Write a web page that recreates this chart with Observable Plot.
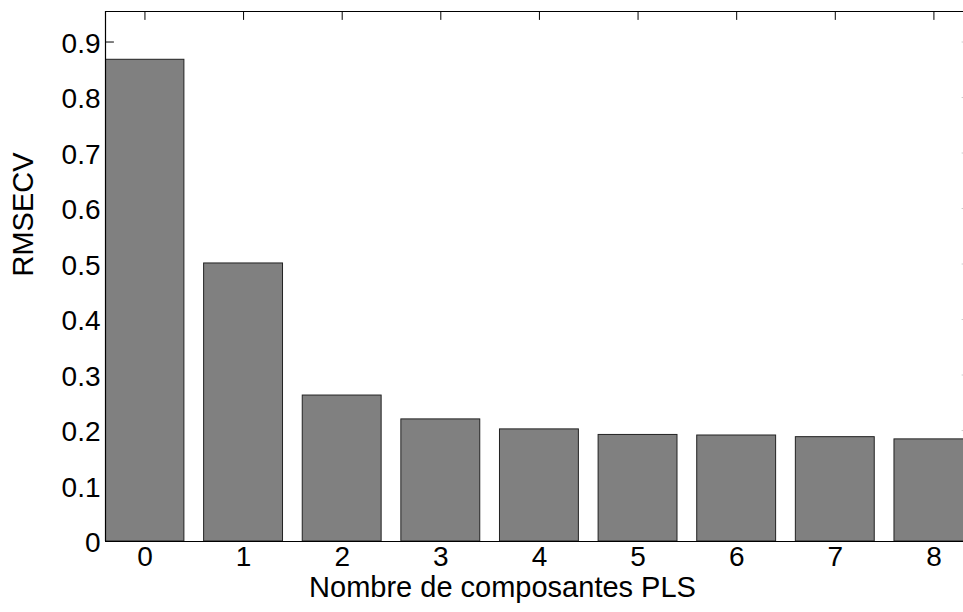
<!DOCTYPE html>
<html>
<head>
<meta charset="utf-8">
<script src="https://cdn.jsdelivr.net/npm/d3@7"></script>
<script src="https://cdn.jsdelivr.net/npm/@observablehq/plot@0.6"></script>
<style>
  html, body { margin: 0; padding: 0; background: #fff; overflow: hidden; }
</style>
</head>
<body>
<div id="chart"></div>
<script>
// Data
const components = [0, 1, 2, 3, 4, 5, 6, 7, 8];
const rmsecv = [0.868, 0.501, 0.263, 0.220, 0.202, 0.192, 0.191, 0.188, 0.184];
const yTicks = [0, 0.1, 0.2, 0.3, 0.4, 0.5, 0.6, 0.7, 0.8, 0.9];
const yTickLabels = ["0", "0.1", "0.2", "0.3", "0.4", "0.5", "0.6", "0.7", "0.8", "0.9"];
const xLabel = "Nombre de composantes PLS";
const yLabel = "RMSECV";

const barHalf = 0.4;
const xDomain = [-0.4, 8.3];
const yDomain = [0, 0.955];
const fsTick = 28;
const fsLabel = 29;

const tickShapeLine = {
  draw(context, l) { context.moveTo(0, 0); context.lineTo(0, -l); }
};

const bars = components.map((k, i) => ({k, v: rmsecv[i]}));

const chart = Plot.plot({
  width: 963,
  height: 612,
  marginLeft: 105,
  marginRight: 0,
  marginTop: 11,
  marginBottom: 71,
  style: {fontFamily: "'Liberation Sans', Arial, sans-serif", background: "#fff", color: "#000"},
  x: {type: "linear", domain: xDomain, axis: null},
  y: {type: "linear", domain: yDomain, axis: null},
  marks: [
    // left ticks (inward)
    Plot.vector(yTicks, {y: d => d, frameAnchor: "left", length: 8, rotate: 90, anchor: "start",
      shape: tickShapeLine, stroke: "#000", strokeWidth: 1}),
    // right ticks tips (axis itself lies just outside the picture)
    Plot.vector(yTicks, {y: d => d, frameAnchor: "right", length: 1.5, rotate: -90, anchor: "start",
      shape: tickShapeLine, stroke: "#ccc", strokeWidth: 1}),
    // top ticks (inward)
    Plot.vector(components, {x: d => d, frameAnchor: "top", length: 8, rotate: 180, anchor: "start",
      shape: tickShapeLine, stroke: "#000", strokeWidth: 1}),
    // bars
    Plot.rectY(bars, {x1: d => d.k - barHalf, x2: d => d.k + barHalf, y1: 0, y2: "v",
      fill: "#808080", stroke: "#222", strokeWidth: 1, clip: true}),
    // axes box lines (left, top, bottom)
    Plot.ruleX([xDomain[0]], {stroke: "#000", strokeWidth: 1.2}),
    Plot.ruleY([yDomain[0], yDomain[1]], {stroke: "#000", strokeWidth: 1.2}),
    // y tick labels
    Plot.text(yTicks, {y: d => d, frameAnchor: "left", dx: -5, dy: 2, textAnchor: "end",
      text: (d, i) => yTickLabels[i], fontSize: fsTick, fill: "#000"}),
    // x tick labels
    Plot.text(components, {x: d => d, frameAnchor: "bottom", dy: 24,
      text: d => String(d), fontSize: fsTick, fill: "#000"}),
    // x label
    Plot.text([xLabel], {frameAnchor: "bottom", dx: -32, dy: 55, text: d => d,
      fontSize: fsLabel, fill: "#000"}),
    // y label
    Plot.text([yLabel], {frameAnchor: "left", dx: -82, rotate: -90, text: d => d,
      fontSize: fsLabel, fill: "#000"})
  ]
});

document.getElementById("chart").appendChild(chart);
</script>
</body>
</html>
